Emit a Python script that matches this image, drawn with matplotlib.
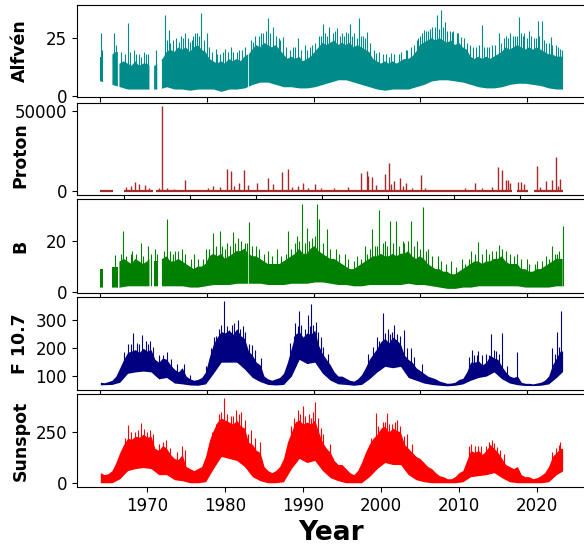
import numpy as np
import matplotlib
matplotlib.use('Agg')
import matplotlib.pyplot as plt

# ---------------------------------------------------------------
# values, x in decimal years
# ---------------------------------------------------------------

# upper edge of the dense part of each trace, every half year 1964.0 .. 2023.0
half_years = np.arange(1964.0, 2023.01, 0.5)
# lower edge, one value per year 1964 .. 2023
years = np.arange(1964, 2024)

# stretches of solar wind data between the gaps
sw_segments = [(1964.0, 1964.35), (1965.55, 1966.25), (1966.45, 1970.3),
               (1970.9, 1971.3), (1971.9, 1982.95), (1983.05, 2023.3)]
full_segment = [(1964.0, 2023.3)]

alf_hi = [17, 17, 18, 18, 19,
          14, 15, 14, 13, 15, 13, 14, 14, 13, 13,
          14, 16, 19, 20, 19, 21, 20, 21, 19, 21,
          22, 20, 19, 16, 15, 14, 15, 14, 16, 15,
          16, 15, 17, 18, 20, 22, 21, 23, 22, 21,
          22, 20, 18, 16, 17, 16, 17, 15, 16, 17,
          19, 21, 23, 22, 23, 24, 22, 23, 22, 23,
          21, 22, 21, 20, 19, 16, 15, 14, 15, 14,
          15, 14, 15, 16, 16, 17, 19, 22, 23, 24,
          25, 24, 25, 24, 23, 24, 22, 23, 21, 20,
          17, 16, 17, 16, 17, 16, 17, 18, 19, 21,
          20, 21, 22, 21, 20, 21, 20, 21, 20, 19,
          18, 18, 17, 17]
alf_lo = [7, 5, 4, 3, 3, 3, 3, 3, 4, 3,
          3, 2.5, 3, 3, 3, 2, 3, 3, 3.5, 5,
          6, 6, 5, 4, 4, 3.5, 3.5, 4, 5, 6,
          7, 7, 6, 5, 4, 3, 2.5, 3, 3, 3,
          4, 5, 6.5, 7, 7, 6.5, 6, 5, 4, 3.5,
          3.5, 4, 5, 5.5, 5.5, 5, 4.5, 3.5, 3, 3]
# tall single spikes
alf_spk_x = [1964.1, 1964.25, 1965.8, 1966.0, 1967.5, 1968.3, 1968.9, 1969.6,
             1970.1, 1971.1, 1972.36, 1972.84, 1973.3, 1974.04, 1974.6, 1975.47,
             1975.9, 1976.4, 1976.9, 1977.62, 1978.81, 1979.4, 1980.01, 1980.72,
             1981.5, 1982.2, 1983.59, 1984.3, 1984.9, 1985.5, 1986.21, 1986.9,
             1987.41, 1988.3, 1989.32, 1990.27, 1991.2, 1992.0, 1992.56, 1993.37,
             1994.33, 1994.8, 1995.52, 1996.0, 1996.6, 1997.2, 1997.7, 1998.15,
             1999.35, 2000.3, 2001.26, 2002.3, 2003.17, 2004.3, 2005.0, 2005.56,
             2006.0, 2006.6, 2007.23, 2007.71, 2008.2, 2008.8, 2009.1, 2009.7,
             2010.3, 2011.0, 2011.8, 2012.9, 2013.6, 2014.3, 2015.1, 2016.0,
             2016.6, 2017.2, 2017.7, 2018.4, 2019.0, 2019.6, 2020.1, 2020.6,
             2021.2, 2021.8, 2022.4, 2023.0]
alf_spk = [27.4, 20, 27, 22, 31.6, 20, 18, 19,
           18, 20, 35, 28.4, 24, 23.4, 25, 23.4,
           26, 27, 35.9, 27, 20.5, 18, 20.5, 21.3,
           19, 20, 23.4, 26, 27, 33.5, 29.9, 25,
           25.6, 20, 24.9, 22, 22, 26, 31, 29.9,
           29.2, 26, 27.7, 31.3, 27, 33.5, 26, 27.7,
           18.4, 18, 18.4, 18, 19.8, 22, 26, 28.4,
           28, 30, 35, 37.1, 32, 28, 27.7, 27,
           25.6, 23, 21, 30.6, 21, 22, 27, 26,
           27, 26, 34.2, 27, 28, 25, 32.5, 32.5,
           23, 25.6, 22, 20.5]
# shorter spikes along the top of the band
alf_mid_x = [1966.7, 1967.2, 1967.8, 1968.6, 1969.2, 1969.9, 1972.6, 1973.0,
             1973.7, 1974.3, 1974.9, 1975.2, 1975.7, 1976.2, 1976.7, 1977.3,
             1977.9, 1978.3, 1979.0, 1979.8, 1980.4, 1981.0, 1981.8, 1982.5,
             1983.3, 1983.8, 1984.6, 1985.2, 1985.8, 1986.5, 1987.1, 1987.8,
             1988.7, 1989.0, 1989.7, 1990.5, 1990.9, 1991.6, 1992.3, 1992.8,
             1993.1, 1993.8, 1994.1, 1995.0, 1995.3, 1995.8, 1996.3, 1996.9,
             1997.4, 1998.0, 1998.6, 1999.1, 1999.7, 2000.7, 2001.0, 2001.7,
             2002.6, 2003.4, 2003.8, 2004.6, 2004.8, 2005.3, 2005.8, 2006.3,
             2006.9, 2007.5, 2007.9, 2008.5, 2009.3, 2009.9, 2010.6, 2011.4,
             2012.2, 2012.6, 2013.2, 2013.9, 2014.6, 2015.4, 2015.8, 2016.3,
             2016.9, 2017.5, 2017.9, 2018.2, 2018.7, 2019.3, 2019.9, 2020.3,
             2020.9, 2021.5, 2022.0, 2022.7, 2023.2]
alf_mid = [19, 18, 19, 18, 17, 18, 24, 23,
           25, 26, 27, 25, 24, 27, 26, 24,
           21, 19, 18, 19, 19, 19, 20, 21,
           24, 26, 27, 28, 27, 26, 24, 21,
           21, 21, 20, 20, 21, 23, 26, 27,
           26, 27, 28, 27, 26, 27, 26, 25,
           26, 25, 23, 20, 19, 18, 17, 18,
           19, 20, 21, 24, 25, 27, 28, 29,
           30, 29, 30, 28, 28, 27, 25, 22,
           21, 22, 21, 21, 22, 23, 25, 25,
           26, 26, 27, 26, 25, 26, 25, 26,
           24, 23, 22, 21, 20]

pro_spk_x = [1967.3, 1967.9, 1968.5, 1969.0, 1969.7, 1970.3, 1971.5, 1971.9,
             1972.6, 1973.5, 1974.8, 1977.8, 1978.5, 1979.3, 1980.3, 1980.7,
             1981.2, 1981.8, 1982.4, 1982.9, 1984.1, 1985.5, 1986.2, 1987.3,
             1988.1, 1988.6, 1989.3, 1990.0, 1990.6, 1991.6, 1992.3, 1994.0,
             1995.8, 1997.4, 1998.2, 1998.4, 1998.9, 1999.4, 2000.5, 2001.0,
             2001.3, 2001.7, 2002.4, 2002.8, 2003.2, 2004.0, 2005.1, 2005.7,
             2010.8, 2012.1, 2013.0, 2014.2, 2015.0, 2015.5, 2016.0, 2016.3,
             2016.6, 2017.6, 2017.9, 2018.3, 2020.0, 2020.4, 2021.2, 2021.9,
             2022.4, 2022.7, 2023.0]
pro_spk = [2500, 3000, 5800, 4500, 3500, 2000, 1500, 53200,
           1800, 1200, 6800, 2000, 3000, 2500, 13800, 12500,
           3000, 5000, 13200, 3500, 5100, 7900, 4000, 11700,
           13800, 2500, 3000, 4700, 2000, 4000, 1500, 1500,
           2500, 11000, 12500, 9000, 8900, 3500, 10600, 17400,
           4000, 6400, 7900, 3000, 5100, 2000, 10000, 2000,
           2000, 5100, 2000, 2500, 14700, 12800, 6600, 6800,
           5100, 5700, 5400, 4500, 15300, 2500, 6200, 6800,
           21100, 3000, 7400]
pro_segments = [(1964.0, 1965.6), (1967.0, 1970.7), (1971.2, 2016.8),
                (2017.5, 2018.9), (2019.6, 2023.4)]

b_hi = [9, 9, 10, 10, 10,
        12, 13, 12, 11, 13, 12, 11, 12, 13, 12,
        12, 13, 14, 12, 12, 13, 12, 11, 10, 9,
        10, 10, 11, 14, 15, 14, 15, 13, 14, 15,
        16, 16, 17, 15, 14, 14, 13, 12, 11, 11,
        11, 11, 12, 13, 14, 15, 17, 15, 15, 17,
        18, 16, 15, 14, 13, 13, 12, 11, 10, 9,
        9, 10, 11, 12, 13, 14, 14, 15, 14, 14,
        15, 14, 15, 15, 16, 14, 13, 14, 13, 11,
        10, 9, 9, 8, 8, 7, 7, 8, 9, 10,
        11, 12, 12, 11, 12, 12, 13, 13, 14, 12,
        11, 11, 11, 9, 9, 8, 8, 9, 9, 10,
        11, 12, 13, 13]
b_lo = [2, 2, 2, 2.5, 2.5, 2.5, 2.5, 2.5, 2.5, 2.5,
        2.5, 2, 2, 2.5, 3, 3, 3, 3.5, 3.5, 3.5,
        3.5, 3, 3, 3, 3.5, 3.5, 3.5, 4, 4, 3.5,
        3, 3, 2.5, 2.5, 3, 3, 3, 3, 3, 3.5,
        3, 3, 2.5, 2, 1.5, 1.5, 2, 2, 2.5, 2.5,
        2.5, 2.5, 2.5, 2.5, 2, 2, 2, 2, 2.5, 2.5]
b_spk_x = [1965.9, 1966.9, 1968.0, 1969.2, 1970.1, 1971.0, 1972.6, 1973.6,
           1974.5, 1976.0, 1977.6, 1978.4, 1979.3, 1980.3, 1981.0, 1981.7,
           1982.5, 1983.1, 1984.0, 1985.5, 1986.7, 1988.1, 1989.2, 1989.9,
           1990.5, 1991.2, 1991.8, 1992.1, 1993.1, 1994.2, 1995.4, 1996.9,
           1997.9, 1998.9, 1999.8, 2000.5, 2001.1, 2001.9, 2002.8, 2003.9,
           2004.6, 2005.4, 2006.0, 2007.3, 2009.0, 2010.4, 2011.6, 2012.5,
           2013.5, 2014.3, 2015.1, 2016.0, 2017.5, 2018.7, 2020.0, 2021.2,
           2022.0, 2022.6, 2023.3]
b_spk = [14.5, 24, 16, 19, 18, 17, 28.5, 16,
         17, 15, 17, 23, 24, 19, 23.5, 21,
         19, 27.4, 18, 16, 17, 24, 22, 34.4,
         25, 21, 34.4, 28.5, 24.5, 17, 15, 14,
         18, 24.5, 32, 20, 27.6, 27.6, 20, 27.9,
         20, 33.2, 17, 14, 12, 13, 16, 19.5,
         17, 16, 18.5, 16, 15, 13, 12, 14,
         18, 15, 25.7]
b_mid_x = [1966.7, 1967.3, 1967.9, 1968.6, 1969.5, 1970.5, 1971.3, 1972.2,
           1972.9, 1973.3, 1974.0, 1974.9, 1975.6, 1976.5, 1977.2, 1978.0,
           1978.8, 1979.6, 1980.0, 1980.6, 1981.3, 1982.0, 1982.8, 1983.5,
           1984.4, 1985.0, 1986.0, 1987.2, 1987.8, 1988.5, 1989.0, 1989.5,
           1990.2, 1990.8, 1991.5, 1992.5, 1993.5, 1994.6, 1995.8, 1996.5,
           1997.4, 1998.2, 1998.6, 1999.2, 1999.5, 2000.2, 2000.8, 2001.5,
           2002.3, 2003.0, 2003.5, 2004.2, 2005.0, 2005.8, 2006.5, 2007.7,
           2008.4, 2009.6, 2010.8, 2011.3, 2012.0, 2012.9, 2013.9, 2014.7,
           2015.5, 2016.5, 2017.1, 2017.9, 2019.0, 2019.8, 2020.6, 2021.6,
           2022.3, 2022.9]
b_mid = [15, 14, 15, 15, 14, 15, 15, 16,
         16, 15, 16, 15, 13, 13, 13, 17,
         18, 18, 17, 18, 19, 20, 19, 18,
         17, 15, 14, 14, 15, 17, 19, 20,
         19, 20, 22, 19, 17, 15, 13, 12,
         13, 15, 17, 18, 18, 19, 18, 19,
         18, 19, 20, 18, 17, 16, 14, 12,
         11, 10, 11, 13, 15, 15, 15, 16,
         17, 15, 14, 13, 11, 11, 12, 13,
         15, 16]

f107_hi = [78, 76, 80, 85, 100, 130, 160, 185, 190, 195,
           185, 200, 190, 195, 160, 150, 165, 160, 140, 125,
           115, 130, 100, 90, 85, 88, 95, 115, 170, 215,
           240, 260, 255, 265, 250, 270, 245, 235, 190, 175,
           150, 140, 100, 90, 85, 90, 95, 110, 150, 200,
           250, 260, 240, 255, 250, 265, 210, 180, 160, 140,
           115, 100, 100, 92, 85, 82, 90, 105, 130, 160,
           180, 200, 225, 235, 220, 240, 230, 215, 175, 160,
           150, 130, 120, 110, 100, 95, 90, 82, 78, 74,
           75, 78, 88, 92, 115, 150, 150, 155, 140, 150,
           175, 165, 160, 135, 115, 100, 95, 100, 78, 74,
           74, 72, 75, 78, 85, 100, 140, 165, 190]
f107_lo = [68, 70, 78, 110, 115, 118, 115, 90, 95, 75,
           72, 68, 67, 72, 110, 150, 150, 150, 125, 95,
           80, 70, 68, 70, 100, 160, 145, 150, 110, 85,
           72, 70, 67, 70, 90, 115, 135, 130, 135, 95,
           85, 75, 70, 67, 65, 67, 72, 85, 95, 100,
           115, 90, 75, 69, 66, 66, 67, 72, 95, 130]
f107_spk_x = [1967.5, 1968.2, 1969.4, 1970.4, 1972.1, 1974.7, 1978.6, 1979.2,
              1979.9, 1980.5, 1981.7, 1982.3, 1983.4, 1989.0, 1989.5, 1990.6,
              1991.0, 1991.7, 1992.3, 1999.5, 2000.3, 2000.9, 2001.7, 2002.9,
              2003.8, 2011.7, 2012.5, 2013.5, 2014.1, 2015.5, 2017.5, 2022.0,
              2022.6, 2023.1]
f107_spk = [215, 255, 249, 226, 175, 145, 240, 270,
            368, 264, 300, 280, 210, 290, 335, 318,
            360, 296, 240, 240, 326, 270, 282, 264,
            200, 193, 190, 180, 252, 255, 187, 200,
            258, 335]
f107_mid_x = [1967.0, 1967.9, 1968.7, 1969.0, 1969.8, 1970.1, 1970.8, 1971.5,
              1972.5, 1973.1, 1973.8, 1975.5, 1977.6, 1978.2, 1978.9, 1979.5,
              1980.2, 1980.9, 1981.2, 1981.9, 1982.6, 1983.1, 1983.8, 1984.6,
              1988.3, 1988.8, 1989.3, 1989.8, 1990.2, 1990.9, 1991.3, 1991.9,
              1992.6, 1993.2, 1998.4, 1999.0, 1999.8, 2000.5, 2001.1, 2001.4,
              2002.1, 2002.5, 2003.3, 2004.3, 2005.2, 2011.3, 2011.9, 2012.3,
              2012.9, 2013.8, 2014.5, 2014.8, 2015.2, 2016.2, 2022.3, 2022.9]
f107_mid = [185, 215, 220, 215, 225, 215, 205, 175,
            185, 160, 145, 105, 135, 200, 245, 285,
            280, 285, 290, 270, 260, 215, 195, 165,
            220, 245, 280, 285, 270, 280, 285, 260,
            205, 180, 180, 205, 225, 255, 250, 260,
            250, 245, 200, 170, 145, 170, 175, 175,
            175, 175, 195, 190, 180, 135, 180, 205]

ssn_hi = [50, 40, 45, 60, 100, 150, 190, 220, 215, 230,
          225, 240, 225, 230, 170, 160, 185, 170, 140, 120,
          115, 140, 80, 70, 60, 70, 80, 130, 210, 260,
          300, 320, 310, 300, 290, 310, 280, 270, 200, 190,
          160, 150, 80, 60, 50, 60, 80, 120, 200, 250,
          300, 310, 290, 300, 290, 310, 250, 200, 170, 150,
          110, 90, 90, 70, 50, 40, 60, 100, 150, 190,
          220, 240, 270, 280, 250, 270, 260, 250, 190, 170,
          150, 130, 120, 100, 80, 70, 50, 35, 30, 20,
          20, 30, 50, 60, 110, 160, 150, 160, 140, 160,
          190, 170, 150, 120, 90, 80, 70, 80, 40, 30,
          30, 20, 25, 35, 50, 80, 130, 150, 170]
ssn_lo = [0, 0, 20, 60, 70, 75, 70, 40, 40, 15,
          10, 0, 0, 5, 70, 130, 120, 110, 80, 30,
          10, 0, 0, 5, 70, 120, 100, 110, 60, 25,
          10, 0, 0, 0, 30, 70, 100, 90, 90, 40,
          15, 5, 0, 0, 0, 0, 5, 30, 35, 40,
          50, 25, 5, 0, 0, 0, 0, 5, 40, 70]
ssn_spk_x = [1967.6, 1968.5, 1969.2, 1970.4, 1972.0, 1974.5, 1979.2, 1979.9,
             1980.7, 1981.4, 1982.1, 1983.3, 1984.5, 1989.3, 1990.0, 1990.8,
             1991.6, 1992.3, 1999.3, 2000.2, 2000.8, 2001.4, 2002.0, 2003.3,
             2011.6, 2012.5, 2013.8, 2014.2, 2015.3, 2022.4, 2023.0]
ssn_spk = [285, 250, 293, 260, 202, 180, 340, 418,
           330, 360, 352, 260, 200, 360, 377, 340,
           400, 270, 343, 300, 343, 290, 310, 240,
           190, 180, 200, 213, 160, 170, 202]
ssn_mid_x = [1967.2, 1967.9, 1968.8, 1969.6, 1970.0, 1970.8, 1971.5, 1972.4,
             1973.0, 1973.8, 1974.8, 1977.8, 1978.3, 1978.8, 1979.5, 1980.2,
             1981.0, 1981.8, 1982.5, 1983.0, 1983.8, 1988.4, 1988.8, 1989.6,
             1990.3, 1991.0, 1991.3, 1991.9, 1992.6, 1993.4, 1998.7, 1999.6,
             2000.5, 2001.0, 2001.8, 2002.4, 2003.0, 2004.0, 2011.3, 2012.0,
             2012.8, 2013.5, 2014.5, 2014.9, 2015.8, 2022.0, 2022.8]
ssn_mid = [220, 250, 260, 265, 250, 240, 190, 210,
           170, 150, 160, 170, 250, 290, 350, 340,
           330, 340, 310, 240, 220, 280, 320, 340,
           330, 320, 350, 320, 240, 190, 220, 280,
           300, 290, 300, 280, 230, 190, 180, 180,
           180, 180, 195, 175, 140, 150, 185]

# tick positions on the unlabelled upper axes
day_ticks = [1964.0, 1977.69, 1991.38, 2005.07, 2018.76]
pro_ticks = [1967.0, 1975.47, 1983.94, 1992.4, 2000.86, 2009.32, 2017.78]


def segment_line(values, segments):
    """upper edge split into the data stretches, nan in between"""
    v = np.asarray(values, dtype=float)
    xs, ys = [], []
    for a, b in segments:
        inside = (half_years > a) & (half_years < b)
        ia = int(np.abs(half_years - a).argmin())
        ib = int(np.abs(half_years - b).argmin())
        xs += [a] + list(half_years[inside]) + [b, b]
        ys += [v[ia]] + list(v[inside]) + [v[ib], np.nan]
    return np.array(xs), np.array(ys)


def draw_trace(ax, hi, lo, segments, spk_x, spk, mid_x, mid, color, floor):
    x, y = segment_line(hi, segments)
    ax.fill_between(x, floor, y, color=color, lw=0)
    ax.vlines(spk_x, floor, spk, color=color, lw=0.8)
    ax.vlines(mid_x, floor, mid, color=color, lw=0.8)
    # lower edge: blank out what lies under it
    xl = years + 0.5
    xl[0] = segments[0][0] - 0.5
    xl[-1] = segments[-1][1] + 0.5
    ax.fill_between(xl, floor - 50, lo, color='white', lw=0, zorder=2.2)


def main():
    W, H = 584, 546
    fig = plt.figure(figsize=(W / 100, H / 100), dpi=100)

    left, right = 76.7, 586.0
    # (top, bottom) of each panel in pixels
    boxes = [(5, 96.7), (102.7, 195), (199.3, 293), (297.3, 390), (394.3, 487)]
    axes = []
    for top, bot in boxes:
        ax = fig.add_axes([left / W, 1 - bot / H, (right - left) / W, (bot - top) / H])
        axes.append(ax)
    ax_alf, ax_pro, ax_b, ax_f, ax_s = axes

    # Alfven
    draw_trace(ax_alf, alf_hi, alf_lo, sw_segments, alf_spk_x, alf_spk,
               alf_mid_x, alf_mid, 'darkcyan', -1)
    ax_alf.set_ylim(-0.3, 39.3)
    ax_alf.set_yticks([0, 25])
    ax_alf.set_ylabel('Alfvén')

    # Proton
    for a, b in pro_segments:
        ax_pro.hlines(0, a, b, color='brown', lw=1.6)
    ax_pro.vlines(pro_spk_x, 0, pro_spk, color='brown', lw=1)
    ax_pro.set_ylim(-2600, 55100)
    ax_pro.set_yticks([0, 50000])
    ax_pro.set_ylabel('Proton')

    # B
    draw_trace(ax_b, b_hi, b_lo, sw_segments, b_spk_x, b_spk,
               b_mid_x, b_mid, 'green', -1)
    ax_b.set_ylim(-0.3, 36.2)
    ax_b.set_yticks([0, 20])
    ax_b.set_ylabel('B')

    # F10.7
    draw_trace(ax_f, f107_hi, f107_lo, full_segment, f107_spk_x, f107_spk,
               f107_mid_x, f107_mid, 'navy', 0)
    ax_f.set_ylim(50, 383)
    ax_f.set_yticks([100, 200, 300])
    ax_f.set_ylabel('F 10.7')

    # Sunspot
    draw_trace(ax_s, ssn_hi, ssn_lo, full_segment, ssn_spk_x, ssn_spk,
               ssn_mid_x, ssn_mid, 'red', -30)
    ax_s.set_ylim(-21, 437)
    ax_s.set_yticks([0, 250])
    ax_s.set_ylabel('Sunspot')
    ax_s.set_xticks([1970, 1980, 1990, 2000, 2010, 2020])
    ax_s.set_xlabel('Year', fontsize=19, fontweight='bold')

    for ax in axes:
        ax.set_xlim(1960.97, 2026.3)
        ax.tick_params(labelsize=12)
        ax.yaxis.label.set_fontsize(12.5)
        ax.yaxis.label.set_fontweight('bold')
        ax.yaxis.set_label_coords(-0.093, 0.5)
    ax_pro.yaxis.set_label_coords(-0.093, 0.43)
    for ax in [ax_alf, ax_b, ax_f]:
        ax.set_xticks(day_ticks)
        ax.tick_params(labelbottom=False)
    ax_pro.set_xticks(pro_ticks)
    ax_pro.tick_params(labelbottom=False)

    fig.savefig('out.png', dpi=100)


if __name__ == '__main__':
    main()
